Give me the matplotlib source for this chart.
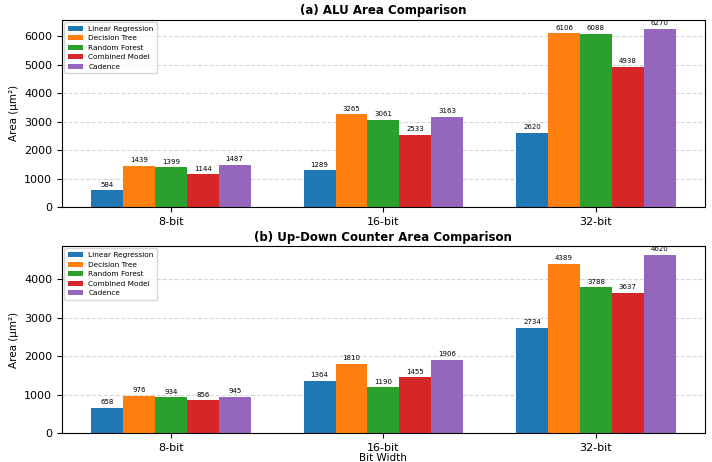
import matplotlib.pyplot as plt
import numpy as np

bit_widths = ["8-bit", "16-bit", "32-bit"]
models = ["Linear Regression", "Decision Tree", "Random Forest", "Combined Model", "Cadence"]
colors = ["#1f77b4", "#ff7f0e", "#2ca02c", "#d62728", "#9467bd"]

alu_lr = [584, 1289, 2620]
alu_dt = [1439, 3265, 6106]
alu_rf = [1399, 3061, 6088]
alu_cm = [1144, 2533, 4938]
alu_cad = [1487, 3163, 6270]

cnt_lr = [658, 1364, 2734]
cnt_dt = [976, 1810, 4389]
cnt_rf = [934, 1190, 3788]
cnt_cm = [856, 1455, 3637]
cnt_cad = [945, 1906, 4620]

alu = [alu_lr, alu_dt, alu_rf, alu_cm, alu_cad]
cnt = [cnt_lr, cnt_dt, cnt_rf, cnt_cm, cnt_cad]

fig, (ax1, ax2) = plt.subplots(2, 1, figsize=(7.12, 4.62), dpi=100)
fig.subplots_adjust(left=0.087, right=0.99, top=0.957, bottom=0.062, hspace=0.21)

x = np.arange(len(bit_widths))
w = 0.15

def draw(ax, data, title, ymax):
    for i, (vals, name, c) in enumerate(zip(data, models, colors)):
        bars = ax.bar(x + (i - 2) * w, vals, w, label=name, color=c)
        for b, v in zip(bars, vals):
            ax.text(b.get_x() + b.get_width() / 2, v + ymax * 0.015, str(v),
                    ha="center", va="bottom", fontsize=5)
    ax.set_title(title, fontsize=8.5, fontweight="bold", pad=4)
    ax.set_ylabel("Area (μm²)", fontsize=7.5)
    ax.set_xticks(x)
    ax.set_xticklabels(bit_widths, fontsize=8)
    ax.tick_params(axis="y", labelsize=8)
    ax.set_ylim(0, ymax * 1.05)
    ax.grid(axis="y", linestyle="--", alpha=0.5)
    ax.set_axisbelow(True)
    ax.legend(loc="upper left", fontsize=5.3, handlelength=2.0, borderpad=0.5,
              labelspacing=0.45, borderaxespad=0.3)

draw(ax1, alu, "(a) ALU Area Comparison", max(alu_cad))
draw(ax2, cnt, "(b) Up-Down Counter Area Comparison", max(cnt_cad))
ax2.set_xlabel("Bit Width", fontsize=7.5, labelpad=0)

fig.savefig("out.png", dpi=100)
